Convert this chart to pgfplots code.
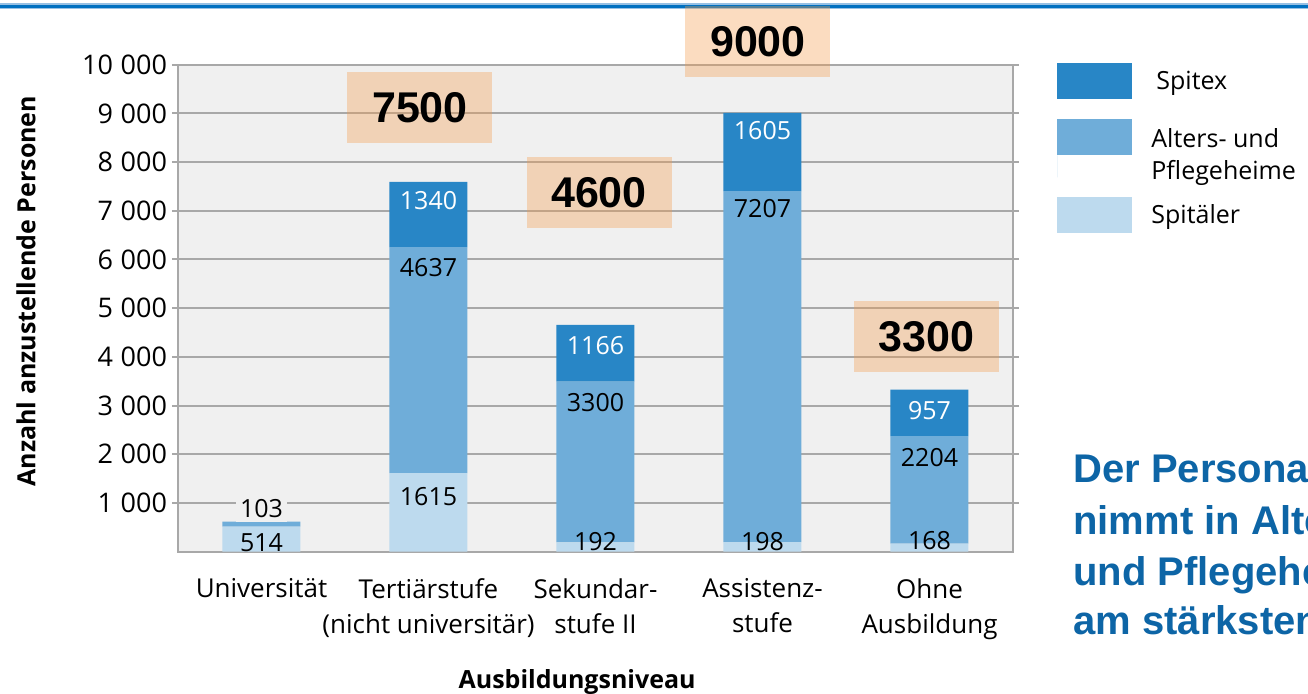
\documentclass[border=0pt]{standalone}
\usepackage{fontspec}
\setmainfont{Open Sans}
\newfontfamily\arial{Liberation Sans}
\usepackage{pgfplots}
\usepackage{pgfplotstable}
\pgfplotsset{compat=1.18}
\definecolor{spitex}{RGB}{40,134,198}
\definecolor{alters}{RGB}{111,173,217}
\definecolor{spital}{RGB}{189,218,238}
\definecolor{bggray}{RGB}{240,240,240}
\definecolor{gridgray}{RGB}{168,168,168}
\definecolor{boxor}{RGB}{243,156,74}
\definecolor{topblue}{RGB}{0,112,192}
\definecolor{toplight}{RGB}{150,192,228}
\definecolor{txtblue}{RGB}{13,101,166}
\pgfplotsset{tallimage/.style={legend image code/.code={\fill[alters] (0pt,-9pt) rectangle (37.5pt,9pt); \path (0pt,-20pt) -- (0pt,-9pt);}}}

\pgfplotstableread{
x spital alters spitex
0 514 103 0
1 1615 4637 1340
2 192 3300 1166
3 198 7207 1605
4 168 2204 957
}\bars

\pgfplotstableread{
x y label
1 7207 1340
2 4240 1166
3 8645 1605
4 2895 957
}\whitelabels

\pgfplotstableread{
x y label
1 5840 4637
2 3070 3300
3 7037 7207
4 1924 2204
1 1123 1615
0 185 514
2 215 192
3 215 198
4 225 168
}\blacklabels

\pgfplotstableread{
x y label
0 877 103
}\outlabel

\pgfplotstableread{
x y label
0.949 9121 7500
2.021 7366 4600
2.973 10476 9000
3.982 4409 3300
}\totals

\begin{document}
\begin{tikzpicture}
\path[use as bounding box] (0,0) rectangle (654pt,-347pt);
\clip (0,0) rectangle (654pt,-347pt);
\fill[toplight] (0,-1.6pt) rectangle (654pt,-4.7pt);
\fill[topblue] (0,-2.35pt) rectangle (654pt,-4.15pt);

\begin{axis}[
  at={(89pt,-275.85pt)}, anchor=south west,
  scale only axis, width=417.5pt, height=243.5pt,
  xmin=-0.5, xmax=4.5, ymin=0, ymax=10000,
  ybar stacked, bar width=39pt,
  axis background/.style={fill=bggray},
  axis line style={gridgray, line width=1pt},
  ymajorgrids, grid style={gridgray, line width=1pt},
  ytick={1000,2000,...,10000},
  scaled y ticks=false,
  xtick={0,1,2,3,4},
  xticklabels={Universität, {Tertiärstufe\\(nicht universitär)}, {Sekundar-\\stufe II}, {Assistenz-\\stufe}, {Ohne\\Ausbildung}},
  xtick style={draw=none},
  ytick style={gridgray, line width=1pt},
  tick align=outside, major tick length=3pt,
  xticklabel style={align=center, font=\fontsize{13}{17.5}\selectfont, yshift=-7pt},
  yticklabel style={font=\fontsize{13.5}{15}\selectfont, xshift=1pt, /pgf/number format/1000 sep={\hspace{0.28em}}, /pgf/number format/assume math mode=true},
  xlabel={Ausbildungsniveau},
  xlabel style={font=\bfseries\fontsize{12.5}{15}\selectfont, at={(axis description cs:0.478,-0.280)}, anchor=base},
  ylabel={Anzahl anzustellende Personen},
  ylabel style={font=\bfseries\fontsize{12.5}{15}\selectfont, at={(axis description cs:-0.182,0.535)}, anchor=center},
  reverse legend,
  legend cell align=left,
  legend image code/.code={\fill[#1] (0pt,-9pt) rectangle (37.5pt,9pt);},
  legend style={at={(axis description cs:1.0527,1.0035)}, anchor=north west, draw=none, fill=none,
    inner sep=0pt, row sep=10pt, font=\fontsize{12.5}{16}\selectfont},
  axis on top=false,
]
\addplot[fill=spital, draw=none] table[x=x, y=spital] {\bars};
\addlegendentry{\hspace*{7.5pt}Spitäler}
\addplot[fill=alters, draw=none, tallimage] table[x=x, y=alters] {\bars};
\addlegendentry{\hspace*{7.5pt}\begin{tabular}[t]{@{}l@{}}Alters- und\\Pflegeheime\end{tabular}}
\addplot[fill=spitex, draw=none] table[x=x, y=spitex] {\bars};
\addlegendentry{\hspace*{10pt}Spitex}
\end{axis}

\begin{axis}[
  at={(89pt,-275.85pt)}, anchor=south west,
  scale only axis, width=417.5pt, height=243.5pt,
  xmin=-0.5, xmax=4.5, ymin=0, ymax=10000,
  hide axis, clip=false,
]
\addplot[only marks, mark=*, mark size=0pt, mark options={draw=none, fill=none},
  nodes near coords, point meta=explicit symbolic,
  nodes near coords style={anchor=center, text=white, font=\fontsize{12.5}{15}\selectfont, inner sep=0pt}]
  table[x=x, y=y, meta=label] {\whitelabels};
\addplot[only marks, mark=*, mark size=0pt, mark options={draw=none, fill=none},
  nodes near coords, point meta=explicit symbolic,
  nodes near coords style={anchor=center, text=black, font=\fontsize{12.5}{15}\selectfont, inner sep=0pt}]
  table[x=x, y=y, meta=label] {\blacklabels};
\addplot[only marks, mark=*, mark size=0pt, mark options={draw=none, fill=none},
  nodes near coords, point meta=explicit symbolic,
  nodes near coords style={anchor=center, text=black, fill=bggray, font=\fontsize{12.5}{15}\selectfont, inner sep=2pt}]
  table[x=x, y=y, meta=label] {\outlabel};
\addplot[only marks, mark=*, mark size=0pt, mark options={draw=none, fill=none},
  nodes near coords, point meta=explicit symbolic,
  nodes near coords style={anchor=center, text=black, fill=boxor, fill opacity=0.35, text opacity=1,
    minimum width=72.5pt, minimum height=35.5pt, inner sep=0pt,
    font=\arial\bfseries\fontsize{21.5}{21.5}\selectfont}]
  table[x=x, y=y, meta=label] {\totals};
\end{axis}

\node[anchor=base west, inner sep=0pt, text=txtblue, font=\arial\bfseries\fontsize{20}{25}\selectfont] at (536.5pt,-241.5pt) {Der Personalbedarf};
\node[anchor=base west, inner sep=0pt, text=txtblue, font=\arial\bfseries\fontsize{20}{25}\selectfont] at (536.5pt,-267.5pt) {nimmt in Alters-};
\node[anchor=base west, inner sep=0pt, text=txtblue, font=\arial\bfseries\fontsize{20}{25}\selectfont] at (536.5pt,-293pt) {und Pflegeheimen};
\node[anchor=base west, inner sep=0pt, text=txtblue, font=\arial\bfseries\fontsize{20}{25}\selectfont] at (536.5pt,-317.5pt) {am stärksten zu};
\end{tikzpicture}
\end{document}
